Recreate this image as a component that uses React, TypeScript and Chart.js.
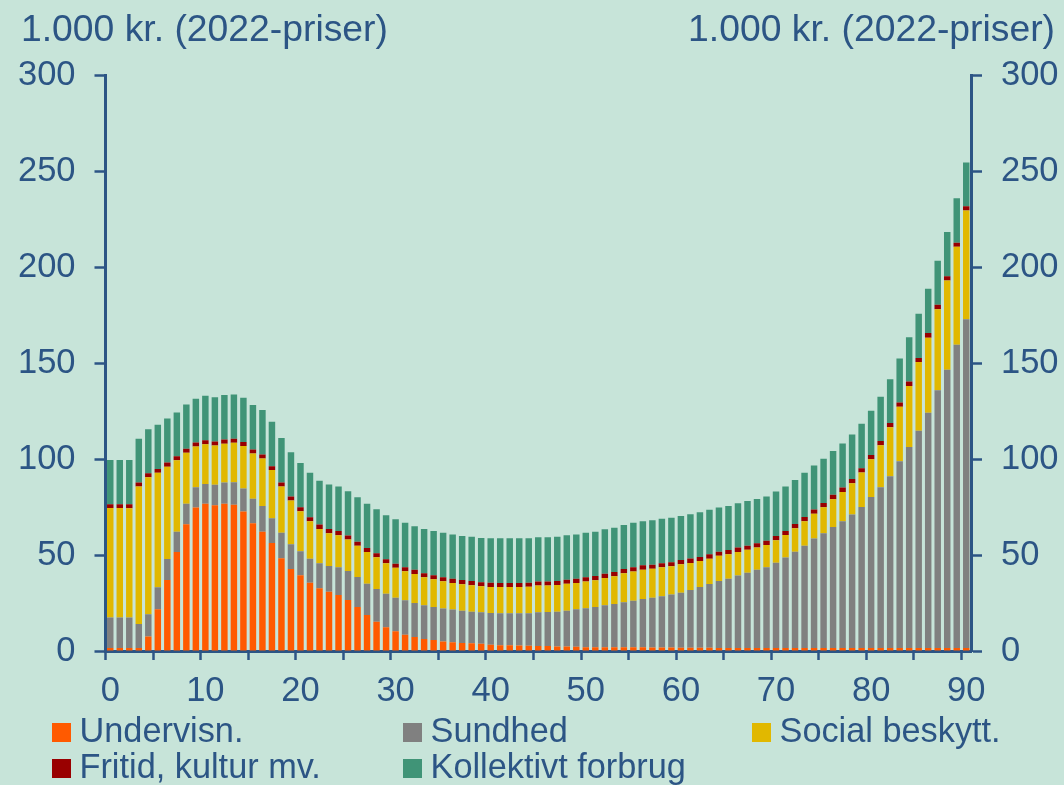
import React, { useEffect, useRef } from 'react';
import { Chart, registerables } from 'chart.js';

Chart.register(...registerables);

const ages: string[] = Array.from({ length: 91 }, (_, i) => String(i));
const xTickLabels = ['0', '10', '20', '30', '40', '50', '60', '70', '80', '90'];
const yTicks = [0, 50, 100, 150, 200, 250, 300];
const axisTitle = '1.000 kr. (2022-priser)';

const seriesNames = ['Undervisn.', 'Sundhed', 'Social beskytt.', 'Fritid, kultur mv.', 'Kollektivt forbrug'];
const seriesColors = ['#FF5A00', '#808080', '#E1B800', '#990000', '#409477'];

const undervisn = [
  1.5, 1.5, 1.5, 1.5, 7.5, 21.7, 37.0, 51.6, 66.1, 74.8,
  76.7, 76.0, 76.8, 76.2, 72.7, 66.6, 62.2, 56.3, 48.3, 42.8,
  39.5, 35.6, 32.7, 30.9, 29.2, 26.6, 23.0, 18.8, 15.3, 12.4,
  10.3, 8.5, 7.3, 6.3, 5.7, 5.0, 4.5, 4.2, 4.0, 3.8,
  3.3, 3.0, 3.0, 2.9, 2.8, 2.6, 2.6, 2.4, 2.3, 2.2,
  2.0, 2.0, 2.0, 2.0, 1.9, 1.9, 1.9, 1.8, 1.8, 1.8,
  1.7, 1.7, 1.7, 1.7, 1.6, 1.6, 1.6, 1.6, 1.6, 1.5,
  1.5, 1.5, 1.5, 1.5, 1.5, 1.5, 1.5, 1.5, 1.5, 1.5,
  1.5, 1.5, 1.5, 1.5, 1.5, 1.5, 1.5, 1.5, 1.5, 1.5, 1.5,
];

const sundhed = [
  15.9, 15.9, 15.9, 12.6, 11.6, 11.5, 11.0, 10.6, 10.6, 10.6,
  10.4, 10.6, 11.0, 11.8, 12.0, 12.8, 13.4, 12.9, 13.3, 12.8,
  12.5, 12.5, 13.0, 13.4, 14.4, 15.1, 15.6, 16.3, 17.0, 17.5,
  17.5, 17.9, 17.7, 17.5, 17.3, 17.1, 17.1, 16.8, 16.5, 16.4,
  16.5, 16.7, 16.7, 16.8, 16.9, 17.6, 17.7, 18.1, 18.7, 19.5,
  20.3, 21.0, 21.8, 22.5, 23.5, 24.3, 25.2, 26.0, 26.7, 27.6,
  28.7, 30.1, 31.7, 33.2, 34.9, 36.1, 37.7, 39.2, 40.7, 42.1,
  44.5, 47.2, 50.3, 53.4, 57.1, 59.9, 63.2, 66.1, 69.6, 73.6,
  78.8, 83.9, 89.6, 97.4, 104.9, 113.3, 122.7, 134.4, 145.1, 158.1, 171.5,
];

const social = [
  57.2, 57.2, 57.0, 71.6, 71.5, 59.7, 48.1, 37.3, 26.6, 21.2,
  20.7, 20.5, 20.3, 20.5, 22.2, 23.5, 24.7, 25.1, 24.1, 22.8,
  20.9, 19.6, 17.9, 17.1, 16.8, 16.4, 16.3, 16.5, 16.6, 15.8,
  15.6, 15.2, 15.2, 14.6, 14.4, 14.3, 13.9, 13.8, 13.8, 13.6,
  13.6, 13.7, 13.7, 13.7, 13.8, 13.9, 13.8, 13.9, 14.0, 13.8,
  13.9, 13.9, 14.3, 14.5, 15.1, 15.2, 15.3, 15.1, 15.2, 14.8,
  14.8, 14.1, 13.5, 13.2, 13.1, 12.7, 12.3, 12.0, 11.6, 11.7,
  11.7, 11.8, 12.2, 12.8, 12.9, 13.6, 14.4, 15.3, 16.4, 17.9,
  19.7, 21.9, 25.5, 28.4, 31.8, 35.8, 39.1, 42.3, 46.6, 51.1, 56.6,
];

const fritid = [
  1.9, 1.9, 2.1, 2.1, 2.1, 2.0, 2.1, 2.0, 2.1, 2.1,
  2.1, 2.1, 2.1, 2.1, 2.1, 2.1, 2.1, 2.0, 2.1, 2.1,
  2.1, 2.0, 2.3, 2.2, 2.2, 2.1, 2.1, 2.1, 2.1, 2.1,
  2.1, 2.0, 2.1, 2.1, 2.1, 2.0, 2.1, 2.2, 2.2, 2.0,
  2.2, 2.1, 2.1, 2.1, 2.1, 2.1, 2.1, 2.1, 2.2, 2.2,
  2.2, 2.2, 2.2, 2.2, 2.3, 2.3, 2.3, 2.1, 2.0, 2.1,
  2.3, 2.3, 2.1, 2.3, 2.2, 2.3, 2.3, 2.1, 2.3, 2.2,
  2.3, 2.1, 2.2, 2.2, 2.2, 2.2, 2.3, 2.3, 2.2, 2.3,
  2.2, 2.2, 2.3, 2.2, 2.3, 2.1, 2.5, 2.3, 2.1, 2.1, 2.3,
];

const kollektivt = [
  23.1, 23.1, 23.1, 22.9, 22.9, 23.0, 23.0, 22.8, 23.1, 22.8,
  23.1, 23.1, 23.2, 23.1, 23.0, 23.2, 23.2, 23.2, 23.2, 23.1,
  23.0, 23.2, 22.8, 23.2, 23.1, 23.1, 23.2, 23.0, 22.9, 23.0,
  23.2, 23.2, 22.7, 23.1, 23.1, 23.3, 23.1, 23.0, 23.0, 23.1,
  23.2, 23.3, 23.3, 23.3, 23.2, 23.1, 23.1, 23.0, 23.1, 23.0,
  23.2, 23.1, 23.2, 23.0, 22.9, 23.1, 22.9, 23.2, 23.2, 23.1,
  22.9, 23.1, 23.3, 23.2, 23.0, 22.9, 23.1, 23.3, 23.1, 23.0,
  23.1, 23.1, 23.0, 23.0, 23.0, 23.0, 22.8, 23.0, 23.2, 23.2,
  23.0, 23.0, 22.8, 23.0, 23.1, 23.1, 23.0, 22.9, 23.1, 23.2, 22.8,
];

const seriesData = [undervisn, sundhed, social, fritid, kollektivt];

const BG = '#C7E4D9';
const INK = '#2C5585';
const FONT = '"Liberation Sans", Arial, sans-serif';

export default function App() {
  const canvasRef = useRef<HTMLCanvasElement | null>(null);

  useEffect(() => {
    const canvas = canvasRef.current;
    if (!canvas) return;
    const chart = new Chart(canvas, {
      type: 'bar',
      data: {
        labels: ages,
        datasets: seriesNames.map((name, i) => ({
          label: name,
          data: seriesData[i],
          backgroundColor: seriesColors[i],
          borderWidth: 0,
          barPercentage: 0.68,
          categoryPercentage: 1.0,
          yAxisID: 'y',
        })),
      },
      options: {
        responsive: false,
        animation: false,
        layout: { padding: { top: 75.5, bottom: 0, left: 0, right: 0 } },
        plugins: {
          legend: { display: false },
          tooltip: { enabled: false },
          title: { display: false },
        },
        scales: {
          x: {
            stacked: true,
            offset: true,
            grid: {
              offset: true,
              drawOnChartArea: false,
              drawTicks: true,
              tickLength: 9,
              tickWidth: 2.5,
              tickColor: (ctx: any) => (typeof ctx.index === 'number' && ctx.index % 5 === 0 ? INK : 'rgba(0,0,0,0)'),
            },
            border: { display: true, color: INK, width: 3 },
            ticks: {
              autoSkip: false,
              maxRotation: 0,
              minRotation: 0,
              padding: 11,
              color: INK,
              font: { family: FONT, size: 34.5 },
              callback: (_v: any, idx: number) => (xTickLabels.includes(ages[idx]) ? ages[idx] : ''),
            },
            afterFit: (scale: any) => { scale.height = 134; },
          },
          y: {
            stacked: true,
            position: 'left',
            min: 0,
            max: 300,
            grid: { drawOnChartArea: false, drawTicks: true, tickLength: 11, tickWidth: 2.5, tickColor: INK },
            border: { display: true, color: INK, width: 3 },
            ticks: {
              stepSize: 50,
              padding: 19,
              color: INK,
              font: { family: FONT, size: 34.5 },
              callback: (v: any) => (yTicks.includes(Number(v)) ? String(v) : ''),
            },
            afterFit: (scale: any) => { scale.width = 105.5; },
          },
          y2: {
            position: 'right',
            min: 0,
            max: 300,
            grid: { drawOnChartArea: false, drawTicks: true, tickLength: 11, tickWidth: 2.5, tickColor: INK },
            border: { display: true, color: INK, width: 3 },
            ticks: {
              stepSize: 50,
              padding: 19,
              color: INK,
              font: { family: FONT, size: 34.5 },
              callback: (v: any) => (yTicks.includes(Number(v)) ? String(v) : ''),
            },
            afterFit: (scale: any) => { scale.width = 93; },
          },
        },
      } as any,
    });
    return () => chart.destroy();
  }, []);

  const textStyle = (fs: number): React.CSSProperties => ({
    position: 'absolute',
    fontFamily: FONT,
    fontSize: fs,
    lineHeight: `${fs}px`,
    color: INK,
    whiteSpace: 'nowrap',
  });

  const legendPos = [
    { x: 52, row: 0 },
    { x: 403, row: 0 },
    { x: 752, row: 0 },
    { x: 52, row: 1 },
    { x: 403, row: 1 },
  ];

  return (
    <div style={{ position: 'fixed', left: 0, top: 0, width: 1064, height: 785, background: BG, overflow: 'hidden' }}>
      <canvas ref={canvasRef} width={1064} height={785} style={{ position: 'absolute', left: 0, top: 0 }} />
      <div style={{ ...textStyle(37.3), left: 21, top: 10.4 }}>{axisTitle}</div>
      <div style={{ ...textStyle(37.3), right: 9, top: 10.4 }}>{axisTitle}</div>
      {seriesNames.map((name, i) => {
        const p = legendPos[i];
        const top = p.row === 0 ? 713.3 : 749.3;
        const sqTop = p.row === 0 ? 723 : 759;
        return (
          <React.Fragment key={name}>
            <div style={{ position: 'absolute', left: p.x, top: sqTop, width: 19, height: 19, background: seriesColors[i] }} />
            <div style={{ ...textStyle(34.3), left: p.x + 27.5, top }}>{name}</div>
          </React.Fragment>
        );
      })}
    </div>
  );
}
